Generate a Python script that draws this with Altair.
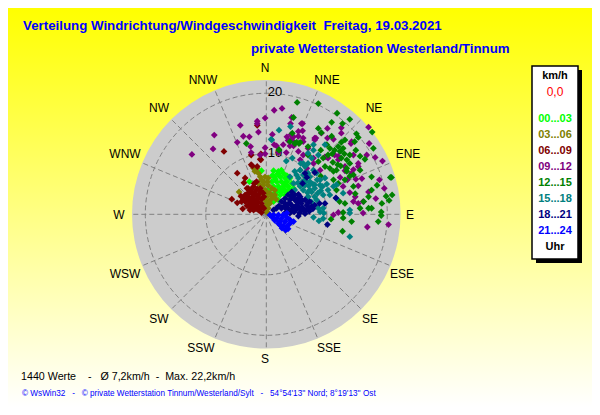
import math
import altair as alt
import pandas as pd

# wind vectors: (east, north) components in km/h
band_00_03 = [(-2.8,5.4),(-0.8,7.2),(1.2,7.2),(2.0,7.1),(2.8,6.8),(2.5,7.3),(1.4,6.2),(2.3,6.2),(3.1,6.0),(3.9,6.0),
 (0.9,5.4),(1.7,5.4),(2.5,5.4),(3.4,5.4),(4.2,5.1),(1.2,4.6),(2.0,4.6),(2.8,4.6),(3.6,4.6),(4.5,4.3),(0.3,4.0),
 (1.7,3.7),(2.5,3.7),(3.4,3.7),(3.9,4.0),(1.4,2.9),(2.3,3.2),(3.1,3.2),(2.0,2.4),(1.2,2.1),(1.5,5.8),(3.0,5.0),
 (2.2,4.2),(3.0,4.1),(1.0,6.4),(1.9,6.7),(3.4,6.4),(1.1,3.3)]
band_03_06 = [(-2.1,7.6),(-1.6,7.6),(-1.3,6.8),(-1.9,7.1),(-1.0,6.2),(-0.8,5.7),(-0.2,6.2),(0.3,6.0),(-0.5,4.8),(0.3,4.8),
 (0.9,4.3),(1.4,4.0),(-0.2,4.0),(0.6,3.5),(1.4,3.2),(0.1,2.9),(0.9,2.6),(1.6,2.5),(0.0,2.1),(0.6,1.8),(-0.2,1.3),
 (0.3,1.0),(0.0,0.4),(0.3,0.2),(-1.0,4.0),(-4.5,3.7),(-1.6,7.6),(-0.4,5.3),(0.2,5.4),(-0.6,3.4),(0.2,3.6),(-0.3,2.6),
 (-1.2,5.0),(0.1,1.5),(0.5,2.2),(1.0,3.0)]
band_06_09 = [(-1.6,5.4),(-2.3,8.0),(-1.5,7.9),(-2.1,4.6),(-3.0,4.3),(-2.7,3.7),(-1.9,3.7),(-1.0,4.3),(-1.3,3.2),(-0.5,3.5),
 (-3.5,3.2),(-3.8,2.5),(-3.0,2.9),(-2.1,2.9),(-2.4,2.1),(-1.6,2.4),(-0.8,2.5),(-3.5,2.1),(-1.6,1.5),(-0.8,1.8),
 (-0.4,1.0),(-1.0,1.0),(-2.1,0.7),(-1.3,0.7),(-0.8,0.3),(-1.9,2.1),(-4.8,6.8),(-3.5,6.0),(-3.7,5.2),(-3.2,4.3),
 (-5.7,2.5),(-4.8,1.9),(-3.9,0.9),(-2.7,0.7),(-1.7,0.9),(-0.9,9.0),(-0.9,10.0),(-7.0,10.4),(-2.5,9.8),(-1.0,9.1),
 (-2.5,8.2),(-1.5,14.7),(-2.8,1.6),(-3.2,1.4),(-2.2,1.5),(-1.4,2.0),(-0.4,2.9),(-2.4,3.4),(-2.5,2.5),(-3.4,2.6),
 (-2.9,2.2),(-1.2,2.7),(-1.7,3.3),(-0.9,3.8),(-1.5,4.2),(-2.5,4.1),(-1.9,1.1),(-2.6,1.0),(-1.4,1.3),(-3.1,3.4),
 (-4.2,3.0),(-4.1,2.1),(-0.7,1.3),(-2.0,5.1)]
band_09_12 = [(1.3,17.2),(2.6,17.5),(-4.3,14.7),(-1.5,15.4),(-1.5,15.0),(-0.2,15.9),(-1.3,13.6),(-3.8,12.9),(-2.8,12.8),
 (-4.8,11.9),(-2.6,11.2),(-2.5,10.2),(1.0,13.2),(-0.2,11.0),(-0.2,10.0),(-1.0,9.8),(1.3,11.5),(2.8,11.5),(2.0,10.2),
 (3.3,10.2),(3.6,12.2),(4.0,12.3),(4.1,13.2),(6.0,15.0),(6.0,13.8),(5.3,12.9),(6.1,12.6),(4.6,11.9),(4.5,11.3),
 (-12.3,9.9),(-8.6,13.1),(-8.8,10.8),(4.2,16.0),(4.0,15.0),(5.8,15.0),(16.9,14.4),(10.1,14.2),(12.4,14.3),(5.3,13.7),
 (11.1,12.4),(12.4,13.4),(3.4,12.8),(4.5,12.8),(1.7,11.3),(3.9,11.3),(6.1,12.0),(8.0,12.3),(8.0,12.6),(5.3,10.4),
 (6.1,9.8),(6.9,10.9),(5.6,9.0),(9.7,9.5),(10.2,9.3),(11.3,9.8),(11.9,9.0),(16.6,9.8),(18.0,9.4),(19.2,8.8),(17.0,11.7),
 (14.4,9.8),(14.1,12.0),(15.2,8.4),(13.0,7.9),(14.1,6.8),(8.9,7.3),(6.7,7.6),(7.8,8.4),(9.1,13.4),(8.2,12.6),(10.1,12.6),
 (14.0,11.7),(7.8,9.3),(9.9,9.5),(11.9,9.6),(14.4,7.4),(15.2,7.9),(13.0,7.2),(18.7,5.7),(19.5,4.3),(20.2,-1.7),(16.7,-2.1),
 (18.1,2.6),(16.9,3.7),(16.0,0.2),(16.0,2.1),(15.2,1.8),(14.4,2.1),(13.8,3.6),(14.7,2.9),(11.1,-0.1),(11.9,0.3),(12.7,4.6),
 (13.4,5.7),(14.8,5.8),(15.8,5.9),(15.2,4.7),(12.2,6.1)]
band_12_15 = [(5.1,18.5),(8.6,18.3),(11.7,16.7),(17.5,13.6),(10.8,15.2),(13.8,15.7),(8.6,14.2),(14.9,13.3),(15.2,12.7),(9.1,13.5),
 (12.6,15.0),(10.8,12.9),(13.0,12.3),(17.7,10.9),(14.6,12.0),(15.5,9.6),(10.0,11.5),(10.5,10.9),(11.3,10.6),(11.9,11.2),
 (12.2,10.4),(12.7,10.9),(12.4,9.3),(13.3,9.0),(13.8,9.8),(14.8,10.6),(13.8,8.4),(10.2,9.8),(9.4,9.3),(8.6,8.7),(9.7,7.9),
 (10.5,7.6),(11.6,7.3),(13.3,7.6),(15.5,7.3),(20.5,6.1),(4.7,11.7),(5.4,11.7),(3.9,12.0),(2.1,10.6),(20.8,3.2),(19.8,3.0),
 (20.3,2.3),(20.7,6.1),(19.0,0.4),(19.0,-0.2),(18.5,-1.2),(12.6,-2.8),(14.1,-1.2),(10.7,-0.8),(12.7,-0.6),(12.7,0.3),
 (17.4,6.2),(18.3,4.8),(17.4,4.0),(16.9,2.9),(19.1,1.8),(17.4,1.0),(16.9,1.0),(16.1,2.1),(15.5,1.0),(14.7,3.4),(14.4,4.6),
 (13.0,1.8),(12.1,2.1),(11.9,5.1),(11.1,5.7),(13.0,5.7),(14.4,6.5),(11.6,4.0),(11.1,7.1),(9.0,6.3),(13.3,7.1),(13.8,6.3),
 (4.5,16.0),(-3.3,11.7),(2.1,10.7),(4.3,13.4),(5.0,11.9),(5.6,11.9),(6.9,11.2),(6.9,9.8),(11.0,8.6),(11.8,8.2),(12.3,8.0),
 (10.9,10.0),(9.0,10.6),(12.9,10.0),(12.4,11.9),(16.3,9.1)]
band_15_18 = [(0.8,12.4),(4.0,14.5),(3.3,8.8),(4.3,9.3),(5.7,8.4),(6.9,8.4),(7.8,11.5),(2.1,13.9),(0.9,12.3),(6.9,10.1),(7.5,9.3),
 (7.8,10.6),(6.1,8.4),(5.6,7.3),(5.0,6.5),(8.6,9.8),(9.7,11.5),(13.8,0.7),(13.8,0.2),(9.5,0.2),(9.4,-0.7),(8.7,-1.1),
 (7.8,-0.5),(13.8,-3.7),(11.6,2.6),(12.7,3.5),(10.2,4.0),(11.1,4.6),(9.4,3.2),(8.3,2.4),(7.5,3.7),(8.0,4.9),(6.9,2.9),
 (8.9,5.7),(9.7,6.0),(11.6,4.9),(6.6,5.4),(7.2,6.2),(8.3,6.8),(9.4,1.0),(8.9,0.4),(3.9,6.2),(4.7,7.1),(5.6,7.3),(6.4,7.9),
 (4.5,5.1),(5.3,6.0),(6.1,6.5),(6.9,6.8),(7.8,7.3),(8.4,5.7),(7.2,5.4),(6.4,4.8),(5.6,4.6),(4.7,4.0),(6.1,4.0),(7.2,4.0),
 (8.0,4.3),(8.9,4.8),(6.9,2.9),(8.0,2.9),(8.6,1.0),(9.0,3.9),(7.0,4.7),(5.2,5.2),(7.7,5.0),(8.5,3.5),(7.5,2.0),(6.3,5.6),
 (9.3,4.6),(10.5,3.2),(10.0,5.0),(6.8,3.6),(5.9,5.3)]
band_18_21 = [(2.5,2.1),(3.1,2.6),(3.6,3.2),(4.2,3.7),(4.7,3.2),(3.9,2.4),(4.7,2.4),(5.6,2.9),(6.4,2.4),(7.2,2.1),(8.0,1.5),(3.4,1.5),
 (4.2,1.5),(5.0,1.5),(5.8,1.8),(6.7,1.5),(7.5,1.3),(1.7,1.0),(2.5,1.0),(3.4,0.8),(4.2,0.8),(5.0,0.8),(5.8,0.7),(6.7,0.8),
 (1.2,0.7),(5.3,-0.3),(3.9,0.2),(3.1,0.2),(10.1,-1.7),(6.0,5.1),(11.5,2.7),(8.0,6.9),(6.7,6.1),(8.8,1.8),(9.7,1.8),
 (6.4,6.8),(5.2,2.0),(6.0,1.1),(4.6,1.1),(7.0,1.0),(3.0,1.9),(2.9,1.3),(3.8,1.9),(4.4,2.9),(5.1,2.5),(5.9,2.3),(6.9,1.9),
 (7.7,0.9),(5.4,1.2),(6.3,0.5),(4.6,0.4),(5.5,0.2),(3.5,1.1),(2.1,1.4),(6.4,0.1),(7.1,0.5),(4.1,3.0),(5.3,3.3)]
band_21_24 = [(0.6,-0.1),(1.2,-0.1),(2.0,-0.1),(2.8,-0.1),(3.4,0.2),(1.7,-0.7),(2.5,-0.7),(3.4,-0.5),(3.9,-0.9),(2.3,-1.2),
 (3.1,-1.2),(3.9,-1.5),(2.3,-1.8),(2.8,-1.9),(3.4,-2.0),(2.6,-2.3),(3.6,-2.4),(3.2,-2.6),(1.0,-0.5),(1.4,-1.0),(2.0,-1.5),(4.5,-1.2)]

band_labels = ["00...03","03...06","06...09","09...12","12...15","15...18","18...21","21...24"]
band_colors = ["#00ff00","#808000","#800000","#800080","#008000","#008080","#000080","#0000ff"]
band_points = [band_00_03,band_03_06,band_06_09,band_09_12,band_12_15,band_15_18,band_18_21,band_21_24]

directions = ["N","NNE","NE","ENE","E","ESE","SE","SSE","S","SSW","SW","WSW","W","WNW","NW","NNW"]
direction_px = [(265,68),(327,80),(374,108),(408,154),(410,215),(402,274),(370,319),(329,348),
                (265,359),(201,348),(159,319),(125,274),(119,215),(125,154),(159,108),(203,80)]
rings = [10, 20]
max_speed = 22.2

PX = 6.05                    # screen pixels per km/h
CX, CY = 258.3, 206.3        # centre inside the plot area
W, H = 584, 399
xs = alt.Scale(domain=[-CX/PX, (W-CX)/PX], range=[0, W], nice=False, zero=False)
ys = alt.Scale(domain=[-(H-CY)/PX, CY/PX], range=[H, 0], nice=False, zero=False)
X = lambda f: alt.X(f, type="quantitative", scale=xs, axis=None)
Y = lambda f: alt.Y(f, type="quantitative", scale=ys, axis=None)
one = alt.Data(values=[{"a": 0}])
FONT = "Liberation Sans"
NB = "\u00a0"

def label(txt, x, y, color="black", size=12, bold=False, align="left"):
    return alt.Chart(one).mark_text(text=txt.replace(" ", NB), color=color, fontSize=size, font=FONT, align=align, baseline="middle",
                                    fontWeight="bold" if bold else "normal").encode(x=alt.value(x-8), y=alt.value(y-8))

bg = alt.Chart(one).mark_rect(color={"gradient": "linear", "x1": 0, "x2": 0, "y1": 0, "y2": 1,
                                     "stops": [{"offset": 0, "color": "#ffff00"}, {"offset": 1, "color": "#ffffff"}]}).encode(
    x=alt.value(0), x2=alt.value(W), y=alt.value(0), y2=alt.value(H))

centre = pd.DataFrame({"e":[0], "n":[0]})
disc = alt.Chart(centre).mark_point(shape="circle", filled=True, opacity=1, color="#cccccc",
                                    size=(2*max_speed*PX)**2).encode(x=X("e"), y=Y("n"))
ring_layers = [alt.Chart(centre).mark_point(shape="circle", filled=False, opacity=1, color="#808080", strokeWidth=1,
                                            strokeDash=[5,3], size=(2*r*PX)**2).encode(x=X("e"), y=Y("n")) for r in rings]
sp = pd.DataFrame([{"e":0,"n":0,
                    "e2":max_speed*math.sin(math.radians(i*22.5)),
                    "n2":max_speed*math.cos(math.radians(i*22.5))} for i in range(16)])
spokes = alt.Chart(sp).mark_rule(color="#808080", strokeWidth=1, strokeDash=[5,3]).encode(
    x=X("e"), y=Y("n"), x2="e2:Q", y2="n2:Q")

layers = [bg, disc, spokes] + ring_layers
for r in rings:
    layers.append(alt.Chart(pd.DataFrame({"e":[1.45],"n":[r+0.2],"t":[str(r)]})).mark_text(
        fontSize=13, font=FONT, color="black", align="center", baseline="middle").encode(x=X("e"), y=Y("n"), text="t:N"))
for pts, col in zip(band_points, band_colors):
    df = pd.DataFrame(pts, columns=["e","n"])
    layers.append(alt.Chart(df).mark_point(shape="diamond", filled=True, opacity=1, color=col, size=46).encode(x=X("e"), y=Y("n")))

for d, (px, py) in zip(directions, direction_px):
    layers.append(label(d, px, py, size=12, align="center"))

layers += [
    label("Verteilung Windrichtung/Windgeschwindigkeit  Freitag, 19.03.2021", 23, 26, "#0000ff", 13.3, True),
    label("private Wetterstation Westerland/Tinnum", 251, 49, "#0000ff", 13.3, True),
    label("1440 Werte    -   Ø 7,2km/h  -  Max. 22,2km/h", 21, 377, "black", 10.7),
    label("© WsWin32   -   © private Wetterstation Tinnum/Westerland/Sylt   -   54°54'13'' Nord; 8°19'13'' Ost", 22, 394, "#0000ff", 8.2),
]

# legend box with its shadow
layers.append(alt.Chart(one).mark_rect(color="black").encode(x=alt.value(536-8), x2=alt.value(582-8), y=alt.value(70-8), y2=alt.value(263-8)))
layers.append(alt.Chart(one).mark_rect(color="white", stroke="black", strokeWidth=1.5).encode(x=alt.value(532-8), x2=alt.value(578-8), y=alt.value(66-8), y2=alt.value(259-8)))
layers.append(label("km/h", 555, 76, "black", 11, True, "center"))
layers.append(label("0,0", 555, 92, "#ff0000", 12, False, "center"))
for i, (t, c) in enumerate(zip(band_labels, band_colors)):
    layers.append(label(t, 555, 119 + 16*i, c, 11, True, "center"))
layers.append(label("Uhr", 555, 247, "black", 11, True, "center"))

chart = alt.layer(*layers).properties(width=W, height=H, padding=0, autosize=alt.AutoSizeParams(type="none")).configure_view(stroke=None)
chart.save("out.html", embed_options={"renderer": "svg", "actions": False})
